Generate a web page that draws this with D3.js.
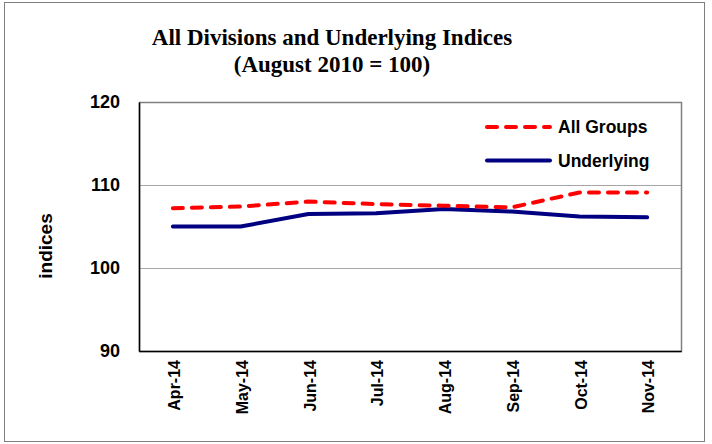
<!DOCTYPE html>
<html><head><meta charset="utf-8">
<script src="https://cdn.jsdelivr.net/npm/d3@7"></script>
<style>body{margin:0;background:#fff}</style>
</head><body>
<svg id="c" width="712" height="444"></svg>
<script>
const categories = ["Apr-14","May-14","Jun-14","Jul-14","Aug-14","Sep-14","Oct-14","Nov-14"];
const allGroups = [107.2,107.4,108.0,107.7,107.5,107.3,109.1,109.1];
const underlying = [105.0,105.0,106.5,106.6,107.1,106.8,106.2,106.1];
const yTicks = [90,100,110,120];
const titleLines = ["All Divisions and Underlying Indices","(August 2010 = 100)"];
const seriesNames = ["All Groups","Underlying"];

const svg = d3.select("#c");
const L=139, R=681, T=102, B=351;
const sans = "Liberation Sans, Arial, sans-serif";
svg.append("rect").attr("x",4.5).attr("y",2.5).attr("width",700).attr("height",439)
  .attr("fill","#fff").attr("stroke","#7f7f7f").attr("stroke-width",1);

const x = d3.scaleBand().domain(categories).range([L,R]);
const y = d3.scaleLinear().domain([90,120]).range([B,T]);

// gridlines
svg.append("g").selectAll("line").data(yTicks.filter(v=>v>90 && v<120)).join("line")
  .attr("x1",L).attr("x2",R).attr("y1",d=>Math.round(y(d))+0.5).attr("y2",d=>Math.round(y(d))+0.5)
  .attr("stroke","#a6a6a6").attr("stroke-width",1);
// frame
svg.append("rect").attr("x",L+0.5).attr("y",T+0.5).attr("width",R-L).attr("height",B-T)
  .attr("fill","none").attr("stroke","#808080").attr("stroke-width",1.5);

// y axis
const ya = svg.append("g").attr("transform",`translate(${L},0)`)
  .call(d3.axisLeft(y).tickValues(yTicks).tickSize(0).tickPadding(19));
ya.select(".domain").attr("stroke","#000").attr("stroke-width",1.5);
ya.selectAll("text").attr("font-family",sans)
  .attr("font-weight","bold").attr("font-size","18px").attr("fill","#000");

// x axis
const xa = svg.append("g").attr("transform",`translate(0,${B})`)
  .call(d3.axisBottom(x).tickSize(0));
xa.select(".domain").attr("stroke","#000").attr("stroke-width",1.5);
xa.selectAll("text").attr("font-family",sans)
  .attr("font-weight","bold").attr("font-size","16px").attr("fill","#000")
  .attr("text-anchor","end").attr("dy","0.45em")
  .attr("transform","translate(0,9) rotate(-90)").attr("x",0).attr("y",0);

// lines
const line = d3.line().x((d,i)=>x(categories[i])+x.bandwidth()/2).y(d=>y(d));
svg.append("path").datum(underlying).attr("d",line).attr("fill","none")
  .attr("stroke","#000080").attr("stroke-width",4).attr("stroke-linecap","round").attr("stroke-linejoin","round");
svg.append("path").datum(allGroups).attr("d",line).attr("fill","none")
  .attr("stroke","#ff0000").attr("stroke-width",4).attr("stroke-dasharray","10,9").attr("stroke-linecap","round");

// legend
const lg = svg.append("g");
[[0,127,"#ff0000","10,9"],[1,160.5,"#000080",null]].forEach(([i,ly,col,dash])=>{
  const l = lg.append("line").attr("x1",487).attr("x2",550).attr("y1",ly).attr("y2",ly)
    .attr("stroke",col).attr("stroke-width",4).attr("stroke-linecap","round");
  if(dash) l.attr("stroke-dasharray",dash);
  lg.append("text").attr("x",558).attr("y",ly).attr("dy","0.36em")
    .attr("font-family",sans).attr("font-weight","bold")
    .attr("font-size","17.5px").text(seriesNames[i]);
});

// y title
svg.append("text").attr("transform","translate(52,246) rotate(-90)").attr("text-anchor","middle")
  .attr("font-family",sans).attr("font-weight","bold")
  .attr("font-size","19px").text("indices");

// title
svg.append("g").selectAll("text").data(titleLines).join("text")
  .attr("x",332).attr("y",(d,i)=>45+i*27).attr("text-anchor","middle")
  .attr("font-family","Liberation Serif, Times New Roman, serif").attr("font-weight","bold")
  .attr("font-size","23px").text(d=>d);
</script>
</body></html>
